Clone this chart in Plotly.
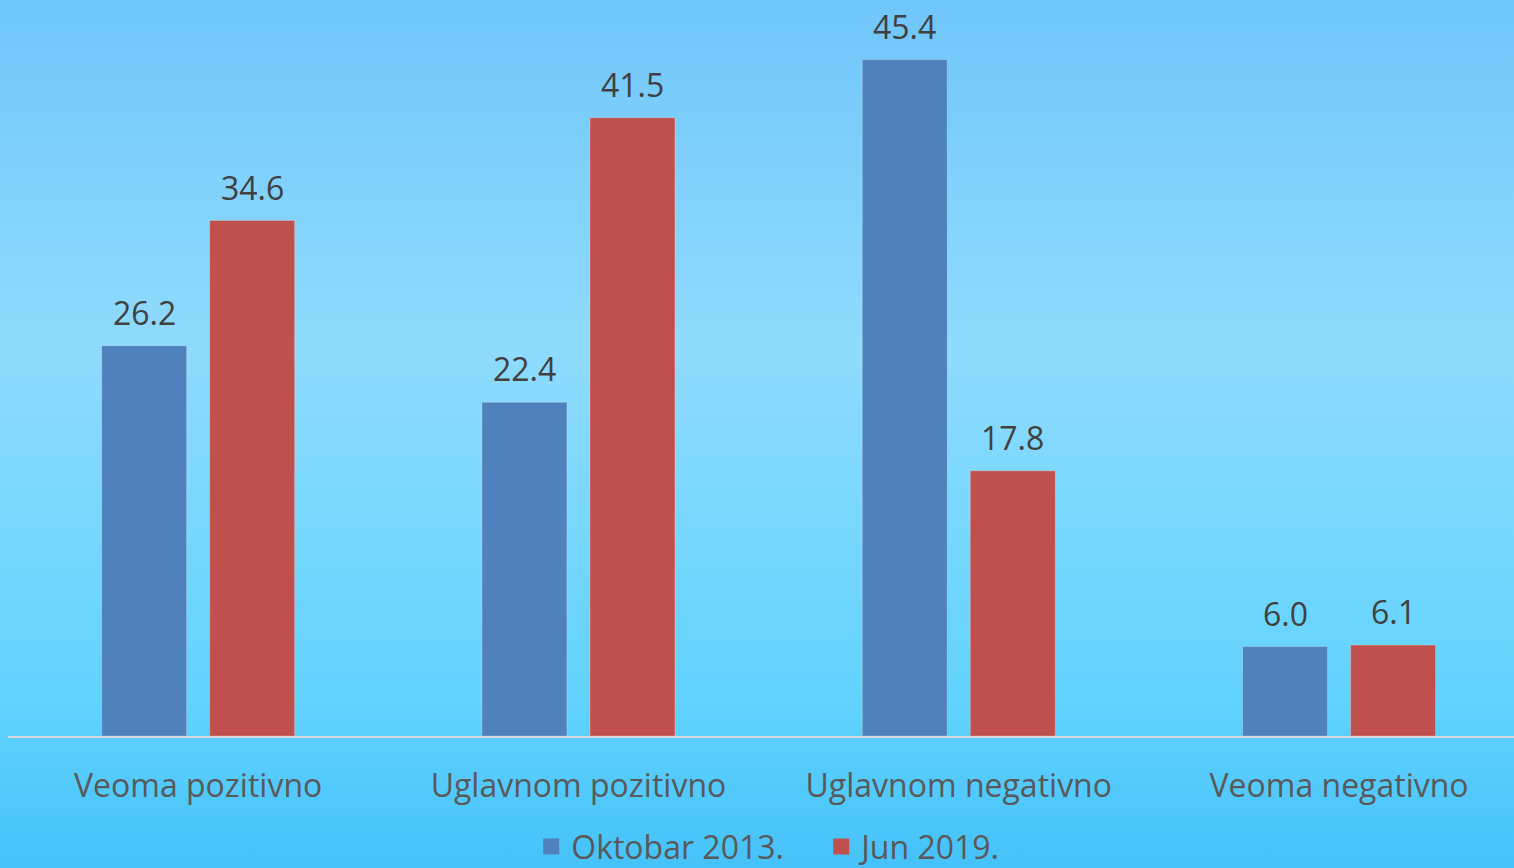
import base64
import plotly.graph_objects as go

categories = ["Veoma pozitivno", "Uglavnom pozitivno", "Uglavnom negativno", "Veoma negativno"]
series_names = ["Oktobar 2013.", "Jun 2019."]
oktobar_2013 = [26.2, 22.4, 45.4, 6.0]
jun_2019 = [34.6, 41.5, 17.8, 6.1]
colors = ["#4F81BD", "#C0504D"]

FONT = "Open Sans"
BARGAP = 0.432
GROUPGAP = 0.213

svg = """<svg xmlns='http://www.w3.org/2000/svg' width='100' height='100' preserveAspectRatio='none'>
<defs><linearGradient id='g' x1='0' y1='0' x2='0' y2='1'>
<stop offset='0' stop-color='#70C6FA'/>
<stop offset='0.4' stop-color='#8FDBFD'/>
<stop offset='0.8' stop-color='#62D3FD'/>
<stop offset='1' stop-color='#45C2F9'/>
</linearGradient></defs>
<rect width='100' height='100' fill='url(#g)'/></svg>"""
bg_uri = "data:image/svg+xml;base64," + base64.b64encode(svg.encode()).decode()

fig = go.Figure()
all_series = [oktobar_2013, jun_2019]
for name, vals, col in zip(series_names, all_series, colors):
    fig.add_trace(go.Bar(
        x=list(range(len(categories))), y=vals, name=name,
        marker=dict(color=col, line=dict(color="rgba(255,255,255,0.25)", width=1)),
        hoverinfo="x+y", showlegend=False,
    ))
# legend entries with larger square swatches
for name, col in zip(series_names, colors):
    fig.add_trace(go.Scatter(
        x=[None], y=[None], mode="markers", name=name,
        marker=dict(symbol="square", size=20, color=col), showlegend=True,
    ))

# data labels placed above each bar via annotations in data coords
half = (1 - BARGAP) / 4
annotations = []
for k, vals in enumerate(all_series):
    off = -half if k == 0 else half
    for i, v in enumerate(vals):
        annotations.append(dict(
            x=i + off, y=v, xref="x", yref="y", text=f"{v:.1f}",
            showarrow=False, yanchor="bottom", yshift=10,
            font=dict(family=FONT, size=32, color="#404040"),
        ))

fig.update_layout(
    width=1514, height=868,
    barmode="group", bargap=BARGAP, bargroupgap=GROUPGAP,
    margin=dict(l=8, r=0, t=0, b=132, autoexpand=False),
    paper_bgcolor="#7AD0FB", plot_bgcolor="rgba(0,0,0,0)",
    font=dict(family=FONT, color="#595959"),
    showlegend=True,
    legend=dict(orientation="h", x=0.54, xanchor="center", y=-0.113, yanchor="top",
                font=dict(family=FONT, size=32, color="#595959"),
                bgcolor="rgba(0,0,0,0)", itemwidth=30, entrywidth=245,
                itemsizing="trace"),
    annotations=annotations,
    images=[dict(source=bg_uri, xref="paper", yref="paper", x=-8/1506, y=1.0,
                 sizex=1514/1506, sizey=868/736, sizing="stretch", xanchor="left",
                 yanchor="top", layer="below")],
)
fig.update_xaxes(
    tickmode="array", tickvals=list(range(len(categories))), ticktext=categories,
    range=[-0.5, 3.46], showgrid=False, zeroline=False,
    showline=True, linecolor="#D9D9D9", linewidth=2,
    ticks="", ticklabelstandoff=21,
    tickfont=dict(family=FONT, size=32, color="#595959"),
)
fig.update_yaxes(range=[0, 49.4], visible=False, showgrid=False, zeroline=False)

fig.write_html("out.html", config={"displayModeBar": False},
               post_script="document.body.style.margin='0';document.body.style.overflow='hidden';")
